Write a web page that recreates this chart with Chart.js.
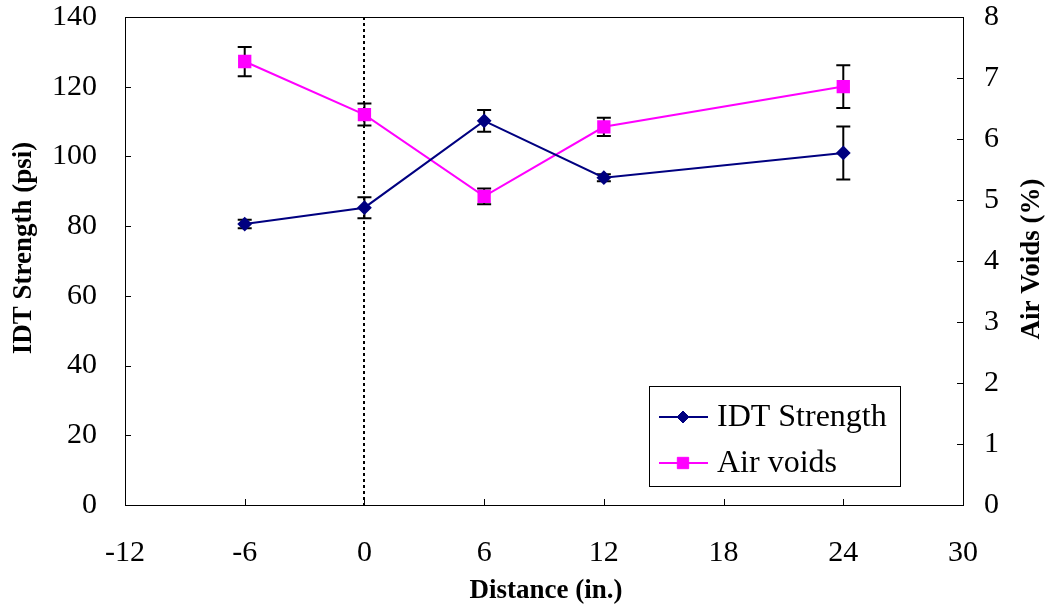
<!DOCTYPE html>
<html>
<head>
<meta charset="utf-8">
<script src="https://cdn.jsdelivr.net/npm/chart.js@4.4.1/dist/chart.umd.min.js"></script>
<style>
  html, body { margin: 0; padding: 0; background: #fff; }
  #wrap { width: 1045px; height: 608px; }
</style>
</head>
<body>
<div id="wrap"><canvas id="chart" width="1045" height="608"></canvas></div>
<script>
// === Data ===
const distance = [-6, 0, 6, 12, 24];
const idtStrength = [80.6, 85.3, 110.2, 93.9, 101.0];
const idtError = [1.2, 3.0, 3.1, 1.0, 7.6];
const airVoids = [7.27, 6.40, 5.06, 6.20, 6.86];
const airVoidsError = [0.24, 0.18, 0.13, 0.15, 0.35];

const seriesLabels = ['IDT Strength', 'Air voids'];
const axisTitles = { x: 'Distance (in.)', y: 'IDT Strength (psi)', y2: 'Air Voids (%)' };
const dividerAt = 0;

const FONT = '"Liberation Serif", "Times New Roman", serif';
const NAVY = '#000080';
const MAGENTA = '#FF00FF';

const errors = [idtError, airVoidsError];

// frame, inside tick marks, dotted divider and error bars
const decorations = {
    id: 'decorations',
    beforeDatasetsDraw(chart) {
        const { ctx, chartArea: a, scales } = chart;
        ctx.save();
        ctx.strokeStyle = '#000';
        ctx.lineWidth = 1;
        ctx.strokeRect(Math.round(a.left) + 0.5, Math.round(a.top) + 0.5,
            Math.round(a.right - a.left), Math.round(a.bottom - a.top));

        // inside ticks
        ctx.beginPath();
        scales.x.ticks.forEach(t => {
            const px = Math.round(scales.x.getPixelForValue(t.value)) + 0.5;
            ctx.moveTo(px, a.bottom);
            ctx.lineTo(px, a.bottom - 6);
        });
        scales.y.ticks.forEach(t => {
            const py = Math.round(scales.y.getPixelForValue(t.value)) + 0.5;
            ctx.moveTo(a.left, py);
            ctx.lineTo(a.left + 6, py);
        });
        scales.y2.ticks.forEach(t => {
            const py = Math.round(scales.y2.getPixelForValue(t.value)) + 0.5;
            ctx.moveTo(a.right, py);
            ctx.lineTo(a.right - 6, py);
        });
        ctx.stroke();

        // dotted line at distance 0
        const dx = Math.round(scales.x.getPixelForValue(dividerAt));
        ctx.beginPath();
        ctx.setLineDash([3, 3]);
        ctx.lineWidth = 2;
        ctx.moveTo(dx, a.top);
        ctx.lineTo(dx, a.bottom);
        ctx.stroke();
        ctx.setLineDash([]);

        // error bars
        ctx.lineWidth = 2;
        chart.data.datasets.forEach((ds, di) => {
            const ys = scales[ds.yAxisID];
            ds.data.forEach((p, i) => {
                const e = errors[di][i];
                const px = scales.x.getPixelForValue(p.x);
                const top = ys.getPixelForValue(p.y + e);
                const bot = ys.getPixelForValue(p.y - e);
                ctx.beginPath();
                ctx.moveTo(px, top);
                ctx.lineTo(px, bot);
                ctx.moveTo(px - 7, top);
                ctx.lineTo(px + 7, top);
                ctx.moveTo(px - 7, bot);
                ctx.lineTo(px + 7, bot);
                ctx.stroke();
            });
        });
        ctx.restore();
    },
    afterDraw(chart) {
        const { ctx } = chart;
        ctx.save();

        // legend box
        const box = { x: 649.5, y: 386.5, w: 251, h: 100 };
        ctx.fillStyle = '#fff';
        ctx.fillRect(box.x, box.y, box.w, box.h);
        ctx.strokeStyle = '#000';
        ctx.lineWidth = 1;
        ctx.strokeRect(box.x, box.y, box.w, box.h);
        const rows = [417, 463];
        chart.data.datasets.forEach((ds, i) => {
            const y = rows[i];
            ctx.strokeStyle = ds.borderColor;
            ctx.lineWidth = 2;
            ctx.beginPath();
            ctx.moveTo(659, y);
            ctx.lineTo(708, y);
            ctx.stroke();
            ctx.fillStyle = ds.pointBackgroundColor;
            ctx.strokeStyle = ds.pointBorderColor;
            ctx.lineWidth = 1;
            Chart.helpers.drawPoint(ctx, { pointStyle: ds.pointStyle, radius: ds.pointRadius, rotation: 0, borderWidth: 1 }, 683, y);
            ctx.fillStyle = '#000';
            ctx.font = '32px ' + FONT;
            ctx.textAlign = 'left';
            ctx.textBaseline = 'middle';
            ctx.fillText(ds.label, 717, y + 1);
        });

        // axis titles
        ctx.fillStyle = '#000';
        ctx.font = 'bold 27px ' + FONT;
        ctx.textAlign = 'center';
        ctx.textBaseline = 'middle';
        ctx.fillText(axisTitles.x, 546, 591);
        ctx.save();
        ctx.translate(24, 248);
        ctx.rotate(-Math.PI / 2);
        ctx.fillText(axisTitles.y, 0, 0);
        ctx.restore();
        ctx.save();
        ctx.translate(1032, 259);
        ctx.rotate(-Math.PI / 2);
        ctx.fillText(axisTitles.y2, 0, 0);
        ctx.restore();

        ctx.restore();
    }
};

const tickFont = { family: FONT, size: 30 };

// fix the axis box size and drop the label overflow padding so the plot area matches
function fixWidth(w) {
    return s => { s.width = w; s.paddingTop = 0; s.paddingBottom = 0; };
}

new Chart(document.getElementById('chart'), {
    type: 'line',
    data: {
        datasets: [
            {
                label: seriesLabels[0],
                data: distance.map((d, i) => ({ x: d, y: idtStrength[i] })),
                yAxisID: 'y',
                borderColor: NAVY,
                backgroundColor: NAVY,
                pointBackgroundColor: NAVY,
                pointBorderColor: NAVY,
                pointStyle: 'rectRot',
                pointRadius: 6,
                borderWidth: 2,
                tension: 0
            },
            {
                label: seriesLabels[1],
                data: distance.map((d, i) => ({ x: d, y: airVoids[i] })),
                yAxisID: 'y2',
                borderColor: MAGENTA,
                backgroundColor: MAGENTA,
                pointBackgroundColor: MAGENTA,
                pointBorderColor: MAGENTA,
                pointStyle: 'rect',
                pointRadius: 8,
                borderWidth: 2,
                tension: 0
            }
        ]
    },
    options: {
        responsive: false,
        animation: false,
        events: [],
        layout: { padding: { top: 17, left: 0, right: 0, bottom: 0 } },
        plugins: { legend: { display: false }, tooltip: { enabled: false } },
        scales: {
            x: {
                type: 'linear',
                min: -12,
                max: 30,
                grid: { display: false, drawTicks: false },
                border: { display: false },
                ticks: { stepSize: 6, font: tickFont, color: '#000', padding: 30 },
                afterFit: s => { s.height = 103; s.paddingLeft = 0; s.paddingRight = 0; }
            },
            y: {
                position: 'left',
                min: 0,
                max: 140,
                grid: { display: false, drawTicks: false },
                border: { display: false },
                ticks: { stepSize: 20, font: tickFont, color: '#000', padding: 28 },
                afterFit: fixWidth(125)
            },
            y2: {
                position: 'right',
                min: 0,
                max: 8,
                grid: { display: false, drawTicks: false },
                border: { display: false },
                ticks: { stepSize: 1, font: tickFont, color: '#000', padding: 21 },
                afterFit: fixWidth(82)
            }
        }
    },
    plugins: [decorations]
});
</script>
</body>
</html>
